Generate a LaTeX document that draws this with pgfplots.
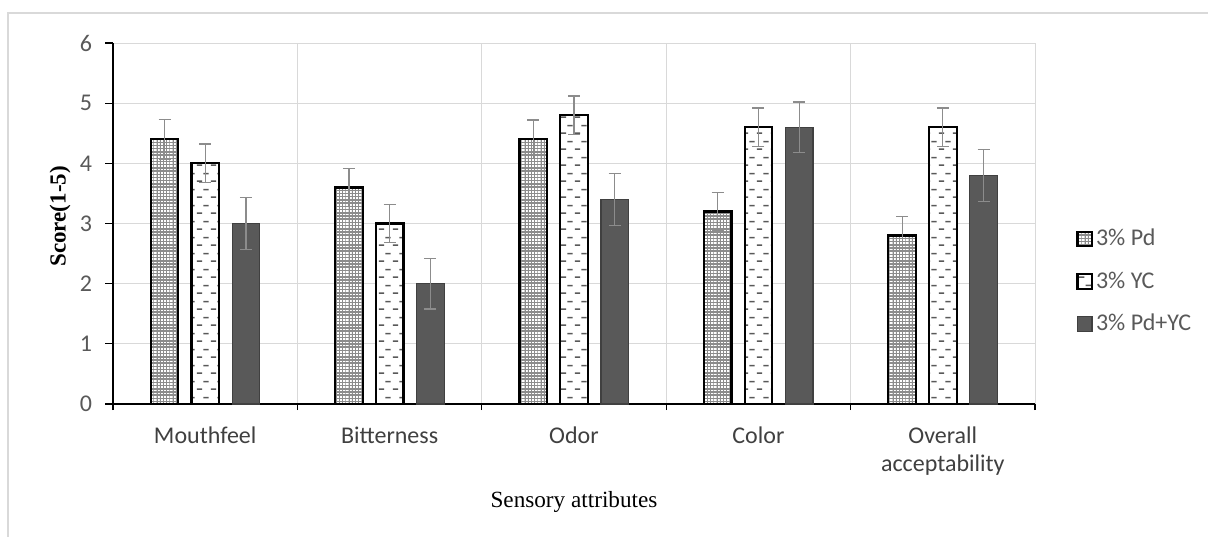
\documentclass[border=0pt]{standalone}
\usepackage{pgfplots}
\pgfplotsset{compat=1.18}
\usepackage{pgfplotstable}
\usetikzlibrary{patterns}
\usepackage{fontspec}
\setmainfont{Carlito}
\newfontfamily\timesf{Liberation Serif}

\definecolor{gridgray}{HTML}{D9D9D9}
\definecolor{ticktext}{HTML}{595959}
\definecolor{cattext}{HTML}{404040}
\definecolor{darkbar}{HTML}{595959}
\definecolor{errgray}{HTML}{8C8C8C}

% fine grey grid (3% Pd)
\pgfdeclarepatternformonly{finegrid}{\pgfqpoint{-0.1pt}{-0.1pt}}{\pgfqpoint{1.7pt}{1.7pt}}{\pgfqpoint{1.6pt}{1.6pt}}{
  \pgfsetlinewidth{0.75pt}
  \pgfpathmoveto{\pgfqpoint{0pt}{0pt}}\pgfpathlineto{\pgfqpoint{1.6pt}{0pt}}
  \pgfpathmoveto{\pgfqpoint{0pt}{0pt}}\pgfpathlineto{\pgfqpoint{0pt}{1.6pt}}
  \pgfusepath{stroke}}
% staggered short dashes (3% YC)
\pgfdeclarepatternformonly{hdashes}{\pgfqpoint{0pt}{0pt}}{\pgfqpoint{7pt}{8pt}}{\pgfqpoint{7pt}{8pt}}{
  \pgfsetlinewidth{0.8pt}
  \pgfpathmoveto{\pgfqpoint{0.5pt}{2pt}}\pgfpathlineto{\pgfqpoint{3.3pt}{2pt}}
  \pgfpathmoveto{\pgfqpoint{4pt}{6pt}}\pgfpathlineto{\pgfqpoint{6.8pt}{6pt}}
  \pgfusepath{stroke}}

% x = category, y = mean score, e = error
\pgfplotstableread{
x y e
0 4.4 0.33
1 3.6 0.32
2 4.4 0.32
3 3.2 0.32
4 2.8 0.32
}\pd
\pgfplotstableread{
x y e
0 4.0 0.32
1 3.0 0.31
2 4.8 0.32
3 4.6 0.32
4 4.6 0.32
}\yc
\pgfplotstableread{
x y e
0 3.0 0.43
1 2.0 0.42
2 3.4 0.43
3 4.6 0.42
4 3.8 0.43
}\pdyc

\begin{document}
\begin{tikzpicture}
\path[use as bounding box] (-56.5pt,-66pt) rectangle (547.5pt,202pt);
\draw[gridgray, line width=0.8pt] (-52.5pt,-70pt) -- (-52.5pt,195.5pt) -- (550pt,195.5pt);
\begin{axis}[
  at={(0,0)}, anchor=south west,
  scale only axis,
  width=461pt, height=180.5pt,
  xmin=-0.5, xmax=4.5,
  ymin=0, ymax=6,
  axis x line=bottom, axis y line=left,
  axis line style={-, black, line width=0.6pt},
  ybar=6.55pt, bar width=13.8pt,
  xtick={0,...,4},
  xticklabels={Mouthfeel, Bitterness, Odor, Color, {Overall\\acceptability}},
  major x tick style={draw=none},
  minor xtick={-0.5,0.5,...,4.5},
  xminorgrids=true,
  ytick={0,...,6},
  ymajorgrids=true,
  grid style={gridgray, line width=0.5pt},
  minor grid style={gridgray, line width=0.5pt},
  tick align=outside,
  major tick length=4pt,
  minor tick length=3pt,
  tick style={black, line width=0.6pt},
  /pgf/number format/assume math mode=true,
  yticklabel style={font=\fontsize{12}{14}\selectfont, text=ticktext, xshift=-3pt},
  xticklabel style={font=\fontsize{12}{14}\selectfont, text=cattext, align=center, yshift=-4pt},
  ylabel={\timesf\bfseries Score(1-5)},
  ylabel style={at={(rel axis cs:-0.0575,0.52)}, anchor=center, font=\fontsize{11.5}{13}\selectfont, black},
  xlabel={\timesf Sensory attributes},
  xlabel style={at={(rel axis cs:0.5,-0.2715)}, anchor=center, font=\fontsize{11.6}{13}\selectfont, black},
  legend style={at={(rel axis cs:1.038,0.505)}, anchor=north west, draw=none, fill=none,
    font=\fontsize{12}{14}\selectfont, text=ticktext, row sep=8.5pt,
    nodes={inner sep=1.5pt}},
  legend cell align=left,
  legend image code/.code={\draw[#1] (0pt,-3.6pt) rectangle (7.2pt,3.6pt);},
  error bars/y dir=both,
  error bars/y explicit,
  error bars/error bar style={errgray, line width=0.6pt},
  error bars/error mark options={rotate=90, mark size=3pt, errgray, line width=0.6pt},
]
\addplot[draw=black, line width=1.1pt, fill=white,
  postaction={pattern=finegrid, pattern color=gray!90}]
  table[x=x, y=y, y error=e] {\pd};
\addplot[draw=black, line width=1.1pt, fill=white,
  postaction={pattern=hdashes, pattern color=darkbar}]
  table[x=x, y=y, y error=e] {\yc};
\addplot[draw=black!75, line width=0.6pt, fill=darkbar]
  table[x=x, y=y, y error=e] {\pdyc};
\legend{3\% Pd, 3\% YC, 3\% Pd+YC}
\end{axis}
\end{tikzpicture}
\end{document}
